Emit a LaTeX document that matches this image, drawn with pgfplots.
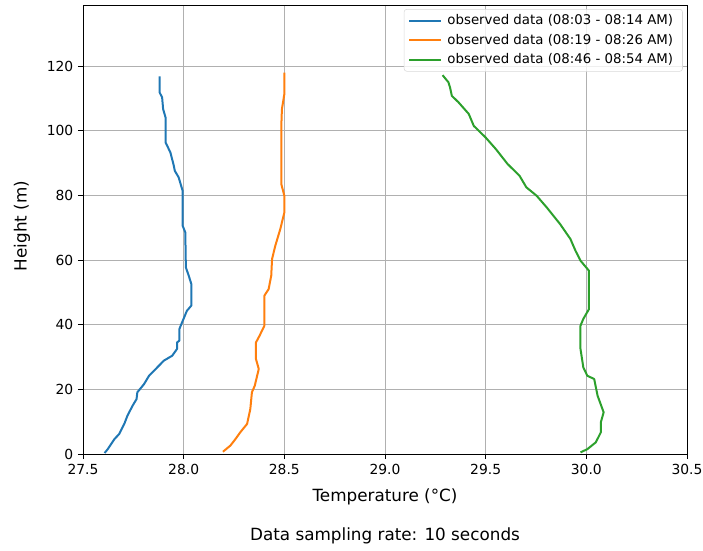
\documentclass[border=0pt]{standalone}
\usepackage{pgfplots}
\pgfplotsset{compat=1.18}
\usepackage{fontspec}
\setmainfont{DejaVu Sans}
\definecolor{tabblue}{HTML}{1F77B4}
\definecolor{taborange}{HTML}{FF7F0E}
\definecolor{tabgreen}{HTML}{2CA02C}
\definecolor{gridgray}{HTML}{B0B0B0}
\begin{document}
\begin{tikzpicture}
\path[use as bounding box] (-62.25pt,-72pt) rectangle (465pt,340.5pt);
\begin{axis}[
  scale only axis,
  width=453pt, height=336.75pt,
  xmin=27.5, xmax=30.5, ymin=0, ymax=138.9,
  xtick={27.5,28,28.5,29,29.5,30,30.5},
  ytick={0,20,40,60,80,100,120},
  xticklabel style={/pgf/number format/.cd,fixed,fixed zerofill,precision=1},
  /pgf/number format/assume math mode=true,
  tick label style={font=\fontsize{10.4}{12}\selectfont},
  label style={font=\fontsize{12.6}{15}\selectfont},
  tick align=outside, tick pos=left,
  major tick length=3.75pt,
  every tick/.style={black, line width=0.6pt},
  axis line style={line width=0.6pt},
  grid=major,
  major grid style={gridgray, line width=0.6pt},
  xlabel={Temperature (°C)},
  ylabel={Height (m)},
  xlabel style={at={(axis description cs:0.5,0)}, anchor=center, yshift=-32.25pt},
  ylabel style={at={(axis description cs:-0.101,0.508)}, anchor=center},
  legend style={at={(rel axis cs:0.993,0.991)}, anchor=north east,
    rounded corners=2pt, draw=gray!30, fill=white, fill opacity=0.8, text opacity=1,
    font=\fontsize{10}{12}\selectfont, row sep=1.6pt, inner xsep=3pt, inner ysep=2pt,
    nodes={inner xsep=4pt}},
  legend cell align=left,
  legend image code/.code={\draw[#1] (0pt,0pt) -- (24pt,0pt);},
  every axis plot/.append style={line width=1.5pt, line join=round},
]
\addplot[tabblue] coordinates {
(27.607,0.3) (27.623,1.5) (27.656,4.6) (27.680,6.2) (27.705,9.3) (27.721,11.9)
(27.746,14.9) (27.766,17.0) (27.770,19.1) (27.803,21.6) (27.828,24.2) (27.869,26.8)
(27.902,28.9) (27.943,30.4) (27.967,32.5) (27.967,34.5) (27.979,35.1) (27.979,38.7)
(27.992,40.7) (28.016,44.3) (28.038,45.9) (28.038,52.6) (28.025,55.2) (28.011,57.7)
(28.008,68.6) (27.995,70.6) (27.995,81.4) (27.975,85.6) (27.956,87.6) (27.951,89.2)
(27.934,93.3) (27.910,96.4) (27.910,104.1) (27.898,106.7) (27.893,110.3) (27.880,111.9)
(27.880,116.8)
};
\addlegendentry{observed data (08:03 - 08:14 AM)}
\addplot[taborange] coordinates {
(28.195,0.7) (28.232,2.6) (28.257,4.6) (28.281,6.7) (28.315,9.3) (28.331,13.9)
(28.339,19.1) (28.353,21.1) (28.373,26.3) (28.359,29.4) (28.359,34.5) (28.377,36.6)
(28.401,39.7) (28.401,49.0) (28.422,51.0) (28.435,55.2) (28.439,60.3) (28.455,64.4)
(28.480,69.6) (28.500,74.7) (28.500,79.9) (28.485,83.5) (28.485,101.5) (28.488,106.7)
(28.500,111.3) (28.500,118.0)
};
\addlegendentry{observed data (08:19 - 08:26 AM)}
\addplot[tabgreen] coordinates {
(29.971,0.5) (30.005,1.5) (30.047,3.6) (30.072,6.7) (30.072,9.8) (30.086,12.9)
(30.056,18.0) (30.039,23.2) (30.005,24.2) (29.985,26.8) (29.971,32.5) (29.971,39.7)
(29.985,41.8) (30.013,44.8) (30.013,56.7) (29.971,59.8) (29.946,62.9) (29.921,66.5)
(29.870,71.1) (29.803,76.3) (29.753,79.9) (29.702,82.5) (29.668,86.1) (29.609,89.7)
(29.551,94.3) (29.500,97.9) (29.441,101.5) (29.416,105.2) (29.365,108.8) (29.332,110.8)
(29.323,113.4) (29.315,115.0) (29.286,117.2)
};
\addlegendentry{observed data (08:46 - 08:54 AM)}
\end{axis}
\node[font=\fontsize{12.6}{15}\selectfont, anchor=center] at (226.5pt,-61.5pt) {Data sampling rate: 10 seconds};
\end{tikzpicture}
\end{document}
